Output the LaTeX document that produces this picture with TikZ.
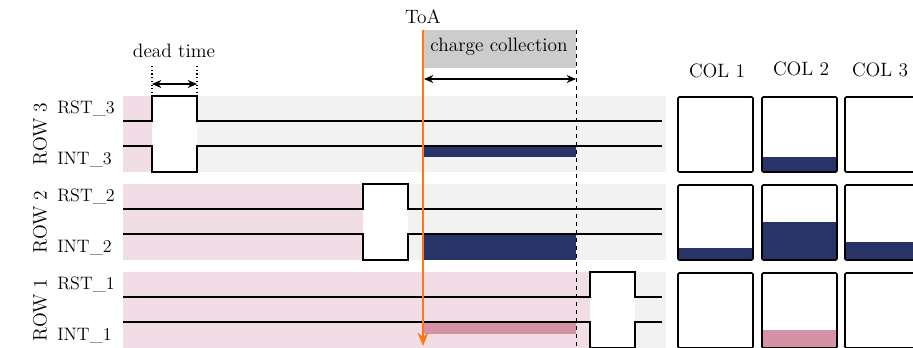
\documentclass[tikz,border=0pt]{standalone}
\usepackage{tikz}
\usetikzlibrary{arrows.meta}

\definecolor{rowpink}{RGB}{240,221,229}
\definecolor{rowgray}{RGB}{242,242,242}
\definecolor{boxgray}{RGB}{204,204,204}
\definecolor{chargeblue}{RGB}{40,52,104}
\definecolor{chargepink}{RGB}{212,146,164}
\definecolor{toaorange}{RGB}{255,120,20}

\begin{document}
\begin{tikzpicture}[x=0.75pt, y=-0.75pt, >={Stealth[length=7pt, width=6pt]},
        every node/.style={font=\fontsize{14.5}{17}\selectfont, inner sep=0pt},
        siglabel/.style={anchor=west, font=\fontsize{13.5}{16}\selectfont},
        signal/.style={line width=1.1pt, line join=miter},
        pixel/.style={draw, line width=1.2pt, rounded corners=1pt}]
    \useasboundingbox (0,0) rectangle (913,347);

    % Rows: background, charge bar, RST and INT signals, labels
    \foreach \row/\yt/\px/\barcol/\barh in {3/96/152/chargeblue/11, 2/184/363/chargeblue/26, 1/272/590/chargepink/12} {
        \fill[rowpink] (123,\yt) rectangle (\px,\yt+76);
        \fill[rowgray] (\px,\yt) rectangle (666,\yt+76);
        \fill[white] (\px,\yt) rectangle (\px+45,\yt+76);
        \fill[\barcol] (424,\yt+50) rectangle (576,\yt+50+\barh);
        \draw[signal] (123,\yt+25) -- (\px,\yt+25) -- (\px,\yt) -- (\px+45,\yt)
            -- (\px+45,\yt+25) -- (662,\yt+25);
        \draw[signal] (123,\yt+50) -- (\px,\yt+50) -- (\px,\yt+76) -- (\px+45,\yt+76)
            -- (\px+45,\yt+50) -- (662,\yt+50);
        \node[siglabel] (rst\row) at (57,\yt+12) {RST\_\row};
        \node[siglabel] (int\row) at (57,\yt+64) {INT\_\row};
        \node[rotate=90] (row\row) at (40,\yt+38) {ROW \row};
    }

    % Dead time
    \coordinate (dtl) at (152,66);
    \coordinate (dtr) at (197,66);
    \draw[dotted, thick] (dtl) -- (152,96);
    \draw[dotted, thick] (dtr) -- (197,96);
    \draw[<->, thick] ([yshift=-13.5pt]dtl) -- ([yshift=-13.5pt]dtr);
    \node (dead) at (174,51) {dead time};

    % Charge collection
    \fill[boxgray] (424,30) rectangle (576,68);
    \node (charge) at (499,47) {charge collection};
    \coordinate (ccl) at (424,79);
    \coordinate (ccr) at (576,79);
    \draw[<->, thick] (ccl) -- (ccr);
    \draw[dashed, thin] (576,30) -- (576,347);

    % Time of arrival
    \node (toa) at (423,17) {ToA};
    \coordinate (toaend) at (423,346);
    \draw[toaorange, line width=1.5pt, -{Stealth[length=10pt, width=8pt]}] (423,30) -- (toaend);

    % Pixel matrix
    \fill[chargeblue] (763,157) rectangle (836,172);
    \fill[chargeblue] (679,248) rectangle (752,260);
    \fill[chargeblue] (763,222) rectangle (836,260);
    \fill[chargeblue] (846,242) rectangle (920,260);
    \fill[chargepink] (763,330) rectangle (836,350);
    \foreach \yt in {96,184,272}
        \foreach \xl in {678,762,845}
            \draw[pixel] (\xl,\yt+1) rectangle (\xl+75,\yt+76);
    \node (col1) at (717,71) {COL 1};
    \node (col2) at (801,69) {COL 2};
    \node (col3) at (880,70) {COL 3};
\end{tikzpicture}
\end{document}
